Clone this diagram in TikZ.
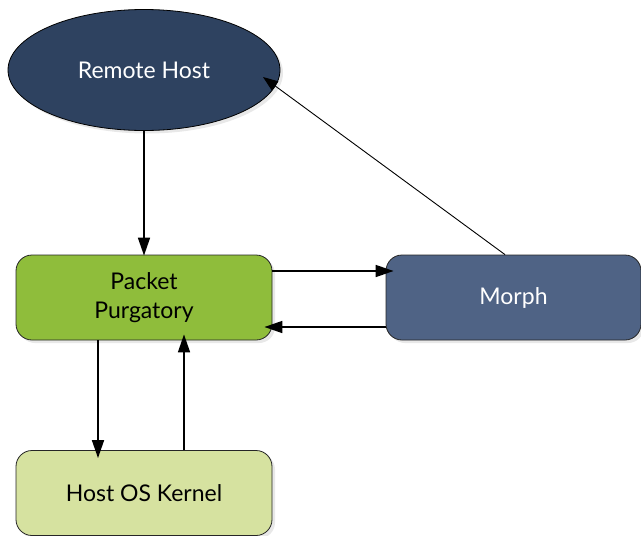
\documentclass[tikz,border=0pt]{standalone}
\usepackage{fontspec}
\setmainfont{Lato}
\usetikzlibrary{shapes.geometric,arrows.meta,shadows,calc}
\definecolor{navy}{HTML}{2E4260}
\definecolor{pgreen}{HTML}{8FBD3B}
\definecolor{morphblue}{HTML}{4F6385}
\definecolor{kgreen}{HTML}{D6E2A0}
\begin{document}
\begin{tikzpicture}[x=1pt,y=-1pt,
  box/.style={draw=black!85, line width=0.8pt, rounded corners=16pt, minimum width=256pt, minimum height=85pt,
    font=\fontsize{23}{29}\selectfont, align=center,
    drop shadow={opacity=0.18, shadow xshift=3pt, shadow yshift=-3pt}},
  conn/.style={line width=1.7pt, -{Triangle[length=18pt,width=12pt]}},
  thin/.style={line width=0.9pt, -{Triangle[length=15pt,width=11pt]}}]
\useasboundingbox (0,0) rectangle (641,536);
\node[ellipse, draw=black, line width=0.8pt, fill=navy, text=white, minimum width=272pt, minimum height=121pt,
  font=\fontsize{23}{27}\selectfont, drop shadow={opacity=0.18, shadow xshift=3pt, shadow yshift=-3pt}]
  (remote) at (144,70) {Remote Host};
\node[box, fill=pgreen] (purg) at (144,297.5) {Packet\\Purgatory};
\node[box, fill=morphblue, text=white, minimum width=255pt] (morph) at (513.5,297.5) {Morph};
\node[box, fill=kgreen] (kernel) at (144,493) {Host OS Kernel};
\coordinate (rtip) at (263,77);
\draw[conn, shorten >=-1pt] (remote.south) -- (purg.north);
\draw[conn, shorten >=-8pt] ($(purg.east)+(0,-26.5)$) -- ($(morph.west)+(0,-26.5)$);
\draw[conn, shorten >=-8pt] ($(morph.west)+(0,29.5)$) -- ($(purg.east)+(0,29.5)$);
\draw[conn, shorten >=-8pt] ($(purg.south)+(-46,0)$) -- ($(kernel.north)+(-46,0)$);
\draw[conn, shorten >=-6pt] ($(kernel.north)+(40,0)$) -- ($(purg.south)+(40,0)$);
\draw[thin] ($(morph.north)+(-8.5,0)$) -- (rtip);
\end{tikzpicture}
\end{document}
